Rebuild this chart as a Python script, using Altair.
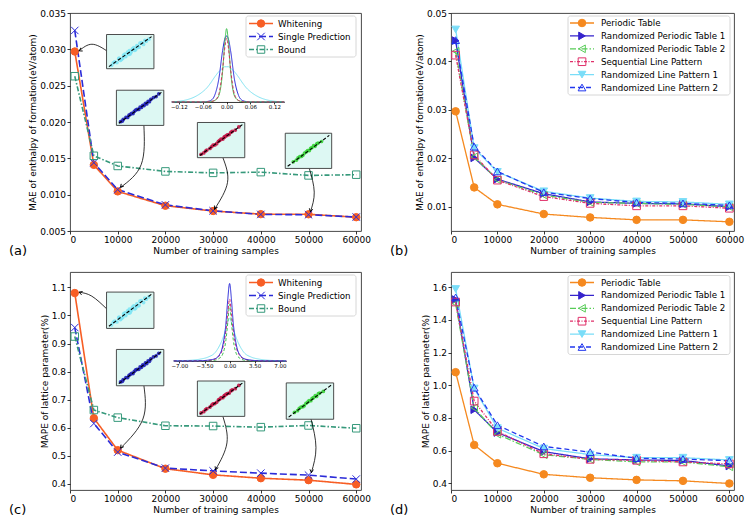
import altair as alt
import pandas as pd

# ---------------- data ----------------
N = [1000, 5000, 10000, 20000, 30000, 40000, 50000, 60000]
X_TICKS = [0, 10000, 20000, 30000, 40000, 50000, 60000]

A_NAMES = ["Whitening", "Single Prediction", "Bound"]
A_WHITENING = [0.0297, 0.0141, 0.01045, 0.00848, 0.00775, 0.00732, 0.00730, 0.00690]
A_SINGLE = [0.0326, 0.0144, 0.01070, 0.00860, 0.00778, 0.00728, 0.00724, 0.00692]
A_BOUND = [0.0263, 0.01535, 0.01395, 0.01320, 0.01300, 0.01310, 0.01265, 0.01275]
A_YTICKS = [0.005, 0.01, 0.015, 0.02, 0.025, 0.03, 0.035]

B_NAMES = ["Periodic Table", "Randomized Periodic Table 1", "Randomized Periodic Table 2",
           "Sequential Line Pattern", "Randomized Line Pattern 1", "Randomized Line Pattern 2"]
B_PT = [0.0297, 0.0140, 0.0105, 0.0085, 0.0078, 0.0073, 0.0073, 0.0069]
B_RPT1 = [0.0443, 0.0201, 0.0157, 0.0127, 0.0110, 0.0107, 0.0106, 0.0100]
B_RPT2 = [0.0421, 0.0203, 0.0156, 0.0124, 0.0109, 0.0107, 0.0105, 0.0100]
B_SLP = [0.0413, 0.0207, 0.0155, 0.0121, 0.0107, 0.0102, 0.0102, 0.0097]
B_RLP1 = [0.0466, 0.0221, 0.0172, 0.0132, 0.0118, 0.0111, 0.0110, 0.0105]
B_RLP2 = [0.0444, 0.0224, 0.0173, 0.0130, 0.0117, 0.0109, 0.0107, 0.0103]
B_YTICKS = [0.01, 0.02, 0.03, 0.04, 0.05]

C_WHITENING = [1.080, 0.634, 0.520, 0.454, 0.432, 0.420, 0.413, 0.398]
C_SINGLE = [0.957, 0.615, 0.513, 0.456, 0.446, 0.438, 0.431, 0.417]
C_BOUND = [0.925, 0.663, 0.636, 0.607, 0.606, 0.602, 0.608, 0.598]
C_YTICKS = [0.4, 0.5, 0.6, 0.7, 0.8, 0.9, 1.0, 1.1]

D_PT = [1.080, 0.634, 0.522, 0.454, 0.433, 0.420, 0.414, 0.398]
D_RPT1 = [1.525, 0.850, 0.710, 0.593, 0.549, 0.542, 0.539, 0.505]
D_RPT2 = [1.500, 0.862, 0.700, 0.574, 0.546, 0.530, 0.530, 0.500]
D_SLP = [1.510, 0.903, 0.717, 0.580, 0.546, 0.540, 0.530, 0.518]
D_RLP1 = [1.590, 0.980, 0.737, 0.612, 0.575, 0.556, 0.556, 0.542]
D_RLP2 = [1.538, 0.985, 0.755, 0.625, 0.590, 0.553, 0.548, 0.537]
D_YTICKS = [0.4, 0.6, 0.8, 1.0, 1.2, 1.4, 1.6]

# inset error-density curves
DENS_A_X = [-0.138, -0.12, -0.10, -0.08, -0.06, -0.05, -0.04, -0.03, -0.02, -0.01, -0.005, 0.0,
            0.005, 0.01, 0.02, 0.03, 0.04, 0.05, 0.06, 0.08, 0.10, 0.12, 0.145]
DENS_A_CYAN = [0.0, 0.01, 0.03, 0.07, 0.14, 0.19, 0.26, 0.34, 0.41, 0.46, 0.48, 0.48,
               0.48, 0.46, 0.41, 0.34, 0.26, 0.19, 0.14, 0.07, 0.03, 0.01, 0.0]
DENS_A_BLUE = [0, 0, 0, 0, 0, 0.005, 0.02, 0.09, 0.30, 0.70, 0.85, 0.90,
               0.85, 0.70, 0.30, 0.09, 0.02, 0.005, 0, 0, 0, 0, 0]
DENS_A_RED = [0, 0, 0, 0, 0, 0, 0.005, 0.02, 0.10, 0.45, 0.72, 0.87,
              0.72, 0.45, 0.10, 0.02, 0.005, 0, 0, 0, 0, 0, 0]
DENS_A_GREEN = [0, 0, 0, 0, 0, 0, 0.005, 0.02, 0.08, 0.42, 0.78, 1.00,
                0.78, 0.42, 0.08, 0.02, 0.005, 0, 0, 0, 0, 0, 0]
DENS_A_TICKS = [-0.12, -0.06, 0.0, 0.06, 0.12]

DENS_C_X = [-7.8, -7, -6, -5, -4, -3, -2, -1.5, -1, -0.5, -0.25, 0,
            0.25, 0.5, 1, 1.5, 2, 3, 4, 5, 6, 7, 7.9]
DENS_C_CYAN = [0, 0.003, 0.006, 0.012, 0.025, 0.05, 0.11, 0.18, 0.28, 0.42, 0.50, 0.55,
               0.50, 0.42, 0.28, 0.18, 0.11, 0.05, 0.025, 0.012, 0.006, 0.003, 0]
DENS_C_BLUE = [0, 0, 0, 0, 0.003, 0.01, 0.03, 0.07, 0.18, 0.50, 0.80, 1.00,
               0.80, 0.50, 0.18, 0.07, 0.03, 0.01, 0.003, 0, 0, 0, 0]
DENS_C_RED = [0, 0, 0, 0, 0.002, 0.006, 0.025, 0.06, 0.15, 0.40, 0.62, 0.80,
              0.62, 0.40, 0.15, 0.06, 0.025, 0.006, 0.002, 0, 0, 0, 0]
DENS_C_GREEN = [0, 0, 0, 0, 0, 0.003, 0.01, 0.03, 0.08, 0.28, 0.50, 0.73,
                0.50, 0.28, 0.08, 0.03, 0.01, 0.003, 0, 0, 0, 0, 0]
DENS_C_TICKS = [-7.0, -3.5, 0.0, 3.5, 7.0]

# inset parity (true vs predicted, normalised) scatter points
PAR_CYAN_T = [0.08, 0.12, 0.15, 0.20, 0.24, 0.28, 0.30, 0.35, 0.40, 0.44, 0.47, 0.50, 0.55, 0.60, 0.65, 0.70, 0.75, 0.80, 0.86, 0.92, 0.33, 0.48, 0.62, 0.72, 0.58, 0.38, 0.52, 0.67, 0.83, 0.25]
PAR_CYAN_P = [0.06, 0.14, 0.17, 0.15, 0.27, 0.22, 0.25, 0.39, 0.34, 0.48, 0.41, 0.43, 0.59, 0.54, 0.69, 0.64, 0.79, 0.73, 0.83, 0.90, 0.28, 0.53, 0.56, 0.77, 0.63, 0.42, 0.49, 0.63, 0.86, 0.29]
PAR_BLUE_T = [0.06, 0.10, 0.12, 0.18, 0.22, 0.25, 0.31, 0.34, 0.37, 0.43, 0.47, 0.50, 0.56, 0.59, 0.62, 0.68, 0.71, 0.74, 0.80, 0.86, 0.92, 0.40, 0.65, 0.53, 0.28]
PAR_BLUE_P = [0.07, 0.09, 0.14, 0.20, 0.20, 0.27, 0.33, 0.32, 0.39, 0.45, 0.45, 0.52, 0.58, 0.57, 0.64, 0.70, 0.69, 0.76, 0.82, 0.85, 0.93, 0.43, 0.62, 0.51, 0.30]
PAR_RED_T = [0.05, 0.11, 0.15, 0.18, 0.25, 0.29, 0.32, 0.40, 0.44, 0.47, 0.54, 0.57, 0.61, 0.68, 0.72, 0.75, 0.82, 0.90, 0.50, 0.58, 0.36, 0.64]
PAR_RED_P = [0.06, 0.10, 0.16, 0.19, 0.24, 0.30, 0.34, 0.39, 0.46, 0.49, 0.53, 0.59, 0.63, 0.67, 0.74, 0.77, 0.81, 0.91, 0.53, 0.60, 0.35, 0.66]
PAR_GREEN_T = [0.15, 0.22, 0.26, 0.30, 0.37, 0.41, 0.45, 0.52, 0.58, 0.65, 0.69, 0.72, 0.80, 0.55, 0.62, 0.34, 0.48]
PAR_GREEN_P = [0.16, 0.21, 0.28, 0.32, 0.36, 0.43, 0.47, 0.51, 0.60, 0.64, 0.72, 0.74, 0.79, 0.58, 0.66, 0.33, 0.51]
DIAG = [0.02, 0.98]

# annotation arrows (data coordinates: start, bend, end) and head angles
A_ARROW_N = [[7700, 4600, 1900], [15490, 14930, 10600], [32070, 33020, 30300], [50170, 51200, 50400]]
A_ARROW_V = [[0.0298, 0.0307, 0.0298], [0.01953, 0.01415, 0.0110], [0.01505, 0.01169, 0.0080], [0.01361, 0.01035, 0.00765]]
A_HEAD_ANGLE = [245, 219, 206, 191]
C_ARROW_N = [[7730, 4560, 1900], [15490, 15280, 10600], [32070, 32900, 30500], [50520, 51560, 50600]]
C_ARROW_V = [[1.023, 1.069, 1.083], [0.750, 0.631, 0.527], [0.639, 0.546, 0.450], [0.631, 0.529, 0.440]]
C_HEAD_ANGLE = [288, 216, 202, 185]

# ---------------- layout / style ----------------
FONT = "DejaVu Sans"
W1, W2, H = 291, 283, 218
XPATH = "M-1,-1L1,1M-1,1L1,-1"
HEAD = "M-0.55,1L0,0L0.55,1"

ALL_NAMES = A_NAMES + B_NAMES
COLORS = ["#F75E25", "#2B2BD8", "#36997B", "#F5891F", "#3523CC", "#58CC58", "#E0306A", "#7ADDF8", "#2238EE"]
DASHES = [[1, 0], [7, 3], [5, 2, 1.5, 2], [1, 0], [1, 0], [6, 2, 1.5, 2], [3, 1.5, 1, 1.5], [1, 0], [5, 3]]
SHAPES = ["circle", XPATH, "square", "circle", "triangle-right", "triangle-left", "square", "triangle-down", "triangle-up"]
FILLED = [True, False, False, True, True, False, False, True, False]
SIZES = [55, 60, 40, 45, 42, 40, 36, 45, 40]

STROKE = alt.Stroke("series:N", scale=alt.Scale(domain=ALL_NAMES, range=COLORS), legend=None)
FILL = alt.Fill("series:N", scale=alt.Scale(domain=ALL_NAMES, range=[c if f else "transparent" for c, f in zip(COLORS, FILLED)]), legend=None)
DASH = alt.StrokeDash("series:N", scale=alt.Scale(domain=ALL_NAMES, range=DASHES), legend=None)
SHAPE = alt.Shape("series:N", scale=alt.Scale(domain=ALL_NAMES, range=SHAPES), legend=None)
SIZE = alt.Size("series:N", scale=alt.Scale(domain=ALL_NAMES, range=SIZES), legend=None)

A_INSETS = [(37, 22, 85, 57), (47, 79, 95, 115), (129, 112, 177, 148), (218, 123, 265, 159)]
C_INSETS = [(37, 21, 85, 59), (47, 81, 95, 119), (129, 114, 177, 151), (219, 116, 267, 154)]
INSET_COLORS = ["#7FE6F5", "#1F1FB8", "#C41446", "#36D336"]
PAR_T = [PAR_CYAN_T, PAR_BLUE_T, PAR_RED_T, PAR_GREEN_T]
PAR_P = [PAR_CYAN_P, PAR_BLUE_P, PAR_RED_P, PAR_GREEN_P]


def long_df(names, arrays):
    rows = []
    for name, arr in zip(names, arrays):
        for n, v in zip(N, arr):
            rows.append({"series": name, "n": n, "v": v})
    return pd.DataFrame(rows)


def main_layer(df, ydom, yticks, yfmt, ytitle, lw, arrows=None):
    xenc = alt.X("n:Q", scale=alt.Scale(domain=[0, 61000], nice=False, zero=False),
                 axis=alt.Axis(values=X_TICKS, format="d", title="Number of training samples"))
    yenc = alt.Y("v:Q", scale=alt.Scale(domain=ydom, nice=False, zero=False),
                 axis=alt.Axis(values=yticks, format=yfmt, title=ytitle))
    base = alt.Chart(df)
    layers = [
        base.mark_line(strokeWidth=lw).encode(x=xenc, y=yenc, stroke=STROKE, strokeDash=DASH, detail="series:N"),
        base.mark_point(opacity=1, strokeWidth=1).encode(x=xenc, y=yenc, shape=SHAPE, fill=FILL, stroke=STROKE, size=SIZE),
    ]
    if arrows is not None:
        an, av, ang = arrows
        rows, heads = [], []
        for i, (ns, vs) in enumerate(zip(an, av)):
            for k, (n, v) in enumerate(zip(ns, vs)):
                rows.append({"id": i, "k": k, "n": n, "v": v})
            heads.append({"n": ns[-1], "v": vs[-1], "ang": ang[i]})
        layers.append(alt.Chart(pd.DataFrame(rows)).mark_line(color="black", strokeWidth=0.8, interpolate="natural")
                      .encode(x=xenc, y=yenc, order="k:Q", detail="id:N"))
        layers.append(alt.Chart(pd.DataFrame(heads)).mark_point(shape=HEAD, filled=False, color="black", strokeWidth=0.9, size=40, opacity=1)
                      .encode(x=xenc, y=yenc, angle=alt.Angle("ang:Q", scale=None)))
    return alt.layer(*layers)


def parity_inset(box, t, p, color):
    x0, y0, x1, y1 = box
    xs = alt.X("t:Q", scale=alt.Scale(domain=[0, 1], range=[x0 + 1.5, x1 - 1.5], nice=False, zero=False), axis=None)
    ys = alt.Y("p:Q", scale=alt.Scale(domain=[0, 1], range=[y1 - 1.5, y0 + 1.5], nice=False, zero=False), axis=None)
    bg = alt.Chart(pd.DataFrame({"t": [0]})).mark_rect(fill="#DDF8F3", stroke="#3a3a3a", strokeWidth=0.9).encode(
        x=alt.value(x0), x2=alt.value(x1), y=alt.value(y0), y2=alt.value(y1))
    pts = alt.Chart(pd.DataFrame({"t": t, "p": p})).mark_circle(size=14, color=color, opacity=0.9).encode(x=xs, y=ys)
    diag = alt.Chart(pd.DataFrame({"t": DIAG, "p": DIAG})).mark_line(color="black", strokeWidth=1.1, strokeDash=[3.5, 2]).encode(x=xs, y=ys)
    return alt.layer(bg, pts, diag)


def density_inset(xv, curves, xdom, xr, base, peak, ticks):
    xs = alt.X("x:Q", scale=alt.Scale(domain=xdom, range=xr, nice=False, zero=False),
               axis=alt.Axis(orient="bottom", offset=base - H, values=ticks, format=".2f", labelFontSize=5.5,
                             tickSize=2, domain=True, domainColor="black", domainWidth=0.8, labelPadding=1,
                             title=None, grid=False))
    ys = alt.Y("d:Q", scale=alt.Scale(domain=[0, 1], range=[base, peak], nice=False, zero=False), axis=None)
    layers = []
    for vals, color, dash in curves:
        layers.append(alt.Chart(pd.DataFrame({"x": xv, "d": vals})).mark_line(
            color=color, strokeWidth=1, strokeDash=dash, interpolate="monotone").encode(x=xs, y=ys))
    return alt.layer(*layers)


def legend_layer(names, box, row0, step, seg, mx, tx, lw):
    bx0, by0, bx1, by1 = box
    frame = alt.Chart(pd.DataFrame({"a": [0]})).mark_rect(fill="white", fillOpacity=0.85, stroke="#cccccc", strokeWidth=0.8, cornerRadius=2.5).encode(
        x=alt.value(bx0), x2=alt.value(bx1), y=alt.value(by0), y2=alt.value(by1))
    ldf = pd.DataFrame({"series": names, "row": list(range(len(names)))})
    ly = alt.Y("row:Q", scale=alt.Scale(domain=[0, len(names) - 1], range=[row0, row0 + step * (len(names) - 1)], nice=False, zero=False), axis=None)
    s = alt.Chart(ldf).mark_rule(strokeWidth=lw).encode(x=alt.value(seg[0]), x2=alt.value(seg[1]), y=ly, stroke=STROKE, strokeDash=DASH)
    m = alt.Chart(ldf).mark_point(opacity=1, strokeWidth=1).encode(x=alt.value(mx), y=ly, shape=SHAPE, fill=FILL, stroke=STROKE, size=SIZE)
    t = alt.Chart(ldf).mark_text(align="left", baseline="middle", fontSize=8.7, font=FONT, color="black").encode(x=alt.value(tx), y=ly, text="series:N")
    return alt.layer(frame, s, m, t)


def panel_label(text, dx):
    return alt.Chart(pd.DataFrame({"a": [0]})).mark_text(align="left", baseline="middle", fontSize=13, font=FONT, color="black").encode(
        x=alt.value(dx), y=alt.value(H + 20), text=alt.value(text))


def build_left(df, ydom, yticks, yfmt, ytitle, arrows, insets, href, dens, label):
    sx, sy = W1 / 294.7, H / href
    main = main_layer(df, ydom, yticks, yfmt, ytitle, 1.6, arrows)
    ins = [parity_inset((b[0] * sx, b[1] * sy, b[2] * sx, b[3] * sy), PAR_T[i], PAR_P[i], INSET_COLORS[i]) for i, b in enumerate(insets)]
    xv, curves, xdom, xr, base, peak, ticks = dens
    d = density_inset(xv, curves, xdom, [xr[0] * sx, xr[1] * sx], base * sy, peak * sy, ticks)
    leg = legend_layer(A_NAMES, (W1 - 115, 3, W1 - 5, 44), 10.5, 13, (W1 - 112, W1 - 88), W1 - 100, W1 - 83, 1.6)
    return alt.layer(main, *ins, d, leg, panel_label(label, -61)).resolve_scale(x="independent", y="independent").properties(width=W1, height=H)


def build_right(df, ydom, yticks, yfmt, ytitle, row0, label):
    main = main_layer(df, ydom, yticks, yfmt, ytitle, 1.3)
    leg = legend_layer(B_NAMES, (W2 - 166, row0 - 7, W2 - 4, row0 + 72), row0, 12.9, (W2 - 164, W2 - 140), W2 - 152, W2 - 133, 1.3)
    return alt.layer(main, leg, panel_label(label, -61)).resolve_scale(y="independent").properties(width=W2, height=H)


pa = build_left(long_df(A_NAMES, [A_WHITENING, A_SINGLE, A_BOUND]), [0.005, 0.035], A_YTICKS, ".3f",
                "MAE of enthalpy of formation(eV/atom)", (A_ARROW_N, A_ARROW_V, A_HEAD_ANGLE), A_INSETS, 223,
                (DENS_A_X, [(DENS_A_CYAN, "#7FE3F2", [1, 0]), (DENS_A_BLUE, "#2626D8", [1, 0]),
                            (DENS_A_GREEN, "#3CC04C", [1, 0]), (DENS_A_RED, "#D0305A", [3, 2])],
                 [-0.138, 0.145], [103, 217], 91, 16, DENS_A_TICKS), "(a)")
pc = build_left(long_df(A_NAMES, [C_WHITENING, C_SINGLE, C_BOUND]), [0.378, 1.155], C_YTICKS, ".1f",
                "MAPE of lattice parameter(%)", (C_ARROW_N, C_ARROW_V, C_HEAD_ANGLE), C_INSETS, 228,
                (DENS_C_X, [(DENS_C_CYAN, "#7FE3F2", [1, 0]), (DENS_C_GREEN, "#3CC04C", [3, 2]),
                            (DENS_C_RED, "#D0306A", [3, 2]), (DENS_C_BLUE, "#2626D8", [1, 0])],
                 [-7.8, 7.9], [105, 219], 93, 12, DENS_C_TICKS), "(c)")
pb = build_right(long_df(B_NAMES, [B_PT, B_RPT1, B_RPT2, B_SLP, B_RLP1, B_RLP2]), [0.005, 0.05], B_YTICKS, ".2f",
                 "MAE of enthalpy of formation(eV/atom)", 10, "(b)")
pd_ = build_right(long_df(B_NAMES, [D_PT, D_RPT1, D_RPT2, D_SLP, D_RLP1, D_RLP2]), [0.358, 1.694], D_YTICKS, ".1f",
                  "MAPE of lattice parameter(%)", 10.5, "(d)")

row1 = alt.hconcat(pa, pb, spacing=90, bounds="flush")
row2 = alt.hconcat(pc, pd_, spacing=90, bounds="flush")
chart = alt.vconcat(row1, row2, spacing=12).properties(
    padding={"left": 0, "top": 0, "right": 0, "bottom": 0}, background="white"
).configure_view(stroke="#333333", strokeWidth=0.9).configure_axis(
    labelFont=FONT, labelFontSize=9, labelColor="black", titleFont=FONT, titleFontSize=9,
    titleFontWeight="normal", titleColor="black", tickColor="black", tickSize=3, tickWidth=0.8,
    domain=False, grid=False, labelPadding=1.5, titlePadding=2
)

chart.save("out.html", embed_options={"renderer": "svg", "actions": False})
